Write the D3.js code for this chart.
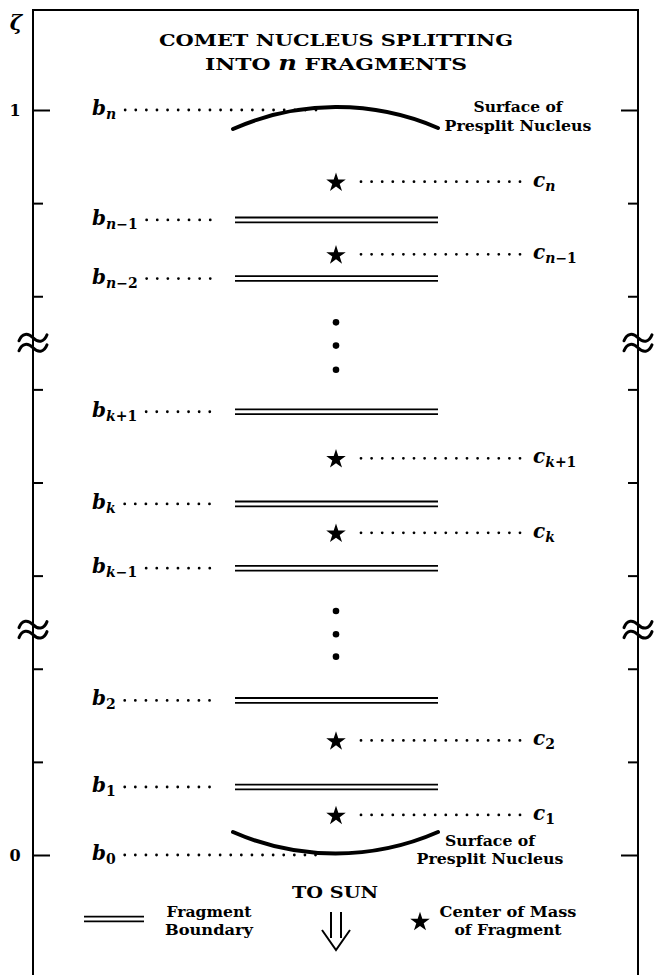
<!DOCTYPE html>
<html>
<head>
<meta charset="utf-8">
<script src="https://cdn.jsdelivr.net/npm/d3@7"></script>
<style>
  body { margin: 0; background: #fff; }
  svg { display: block; }
</style>
</head>
<body>
<div id="chart"></div>
<script>
// positions are in tick units: 0 = lower surface (zeta 0), 8 = upper surface (zeta 1)
const tick_values = [0, 1, 2, 3, 4, 5, 6, 7, 8];
const tick_labels = {0: "0", 8: "1"};
const boundary_subs = ["n", "n\u22121", "n\u22122", "k+1", "k", "k\u22121", "2", "1", "0"];
const boundary_pos = [8, 6.82, 6.19, 4.76, 3.77, 3.08, 1.66, 0.73, 0];
const center_subs = ["n", "n\u22121", "k+1", "k", "2", "1"];
const center_pos = [7.23, 6.45, 4.26, 3.46, 1.23, 0.43];
const ellipsis_pos = [5.72, 5.47, 5.21, 2.62, 2.37, 2.13];
const break_pos = [5.5, 2.42];
const title_lines = ["COMET NUCLEUS SPLITTING", "INTO n FRAGMENTS"];
const surface_label = ["Surface of", "Presplit Nucleus"];
const legend_boundary = ["Fragment", "Boundary"];
const legend_center = ["Center of Mass", "of Fragment"];

const width = 655;
const height = 975;
const left_x = 33;
const right_x = 638;
const frame_top = 10;
const mid_x = 336;
const bar_x1 = 235;
const bar_x2 = 438;
const label_x = 92;
const serif = "'DejaVu Serif', 'Liberation Serif', serif";

const y = d3.scaleLinear().domain([0, 8]).range([855, 110]);

const svg = d3.select("#chart").append("svg")
    .attr("width", width)
    .attr("height", height);

// frame
svg.append("path")
    .attr("d", `M${left_x},${height} V${frame_top} H${right_x} V${height}`)
    .attr("fill", "none")
    .attr("stroke", "#000")
    .attr("stroke-width", 2);

// ticks, minor and major, pointing inward on both sides
function draw_ticks(x, axis_fn, values, size) {
    const g = svg.append("g")
        .attr("transform", `translate(${x},0)`)
        .call(axis_fn(y).tickValues(values).tickSize(size).tickFormat(""));
    g.select(".domain").remove();
    g.selectAll(".tick line").attr("stroke", "#000").attr("stroke-width", 2);
    return g;
}
const minor = tick_values.filter(d => !(d in tick_labels));
const major = tick_values.filter(d => d in tick_labels);
draw_ticks(left_x, d3.axisRight, minor, 10);
draw_ticks(left_x, d3.axisRight, major, 17);
draw_ticks(right_x, d3.axisLeft, minor, 10);
draw_ticks(right_x, d3.axisLeft, major, 17);

svg.append("g").selectAll("text")
    .data(major)
    .join("text")
    .attr("x", 15)
    .attr("y", d => y(d))
    .attr("dy", "0.36em")
    .attr("text-anchor", "middle")
    .attr("font-family", serif)
    .attr("font-weight", "bold")
    .attr("font-size", 16)
    .text(d => tick_labels[d]);

svg.append("text")
    .attr("x", 16)
    .attr("y", 30)
    .attr("text-anchor", "middle")
    .attr("font-family", serif)
    .attr("font-weight", "bold")
    .attr("font-style", "italic")
    .attr("font-size", 21)
    .text("\u03B6");

// axis break marks
const tilde = "M-14,3 C-11,-5 -5,-5 0,0 C5,5 11,5 14,-3";
break_pos.forEach(p => {
    [left_x, right_x].forEach(x => {
        [-5, 5].forEach(off => {
            svg.append("path")
                .attr("d", tilde)
                .attr("transform", `translate(${x},${y(p) + off})`)
                .attr("fill", "none")
                .attr("stroke", "#000")
                .attr("stroke-width", 3)
                .attr("stroke-linecap", "round");
        });
    });
});

// title
svg.append("text")
    .attr("x", mid_x)
    .attr("y", 46)
    .attr("text-anchor", "middle")
    .attr("font-family", serif)
    .attr("font-weight", "bold")
    .attr("font-size", 17)
    .attr("textLength", 354)
    .attr("lengthAdjust", "spacingAndGlyphs")
    .text(title_lines[0]);
const t2 = svg.append("text")
    .attr("x", mid_x)
    .attr("y", 70)
    .attr("text-anchor", "middle")
    .attr("font-family", serif)
    .attr("font-weight", "bold")
    .attr("font-size", 17)
    .attr("textLength", 262)
    .attr("lengthAdjust", "spacingAndGlyphs");
const t2_parts = title_lines[1].split(" n ");
t2.append("tspan").text(t2_parts[0] + " ");
t2.append("tspan").attr("font-style", "italic").attr("font-size", 20).text("n");
t2.append("tspan").text(" " + t2_parts[1]);

function dotted(x1, x2, yy) {
    svg.append("line")
        .attr("x1", x1).attr("x2", x2)
        .attr("y1", yy).attr("y2", yy)
        .attr("stroke", "#000")
        .attr("stroke-width", 2.8)
        .attr("stroke-linecap", "round")
        .attr("stroke-dasharray", "0 10.6");
}

function math_label(x, yy, base, sub) {
    const t = svg.append("text")
        .attr("x", x)
        .attr("y", yy + 5)
        .attr("font-family", serif)
        .attr("font-weight", "bold")
        .attr("font-size", 20);
    t.append("tspan").attr("font-style", "italic").text(base);
    const parts = sub.match(/[a-z]+|[^a-z]+/g);
    parts.forEach((p, i) => {
        const s = t.append("tspan")
            .attr("font-size", 14)
            .attr("font-style", /[a-z]/.test(p) ? "italic" : "normal")
            .text(p);
        if (i === 0) s.attr("dy", 4);
    });
    return t;
}

// fragment boundaries
boundary_pos.forEach((p, i) => {
    const yy = y(p);
    const lab = math_label(label_x, yy, "b", boundary_subs[i]);
    const lab_end = label_x + lab.node().getComputedTextLength();
    const surface = (i === 0 || i === boundary_pos.length - 1);
    dotted(lab_end + 9, surface ? 318 : 213, yy);
    if (!surface) {
        [-2.4, 2.4].forEach(off => {
            svg.append("line")
                .attr("x1", bar_x1).attr("x2", bar_x2)
                .attr("y1", yy + off).attr("y2", yy + off)
                .attr("stroke", "#000")
                .attr("stroke-width", 1.8);
        });
    }
});

// presplit nucleus surfaces (circular arcs)
const chord = (bar_x2 - bar_x1) / 2;
const sag = 21;
const radius = (chord * chord + sag * sag) / (2 * sag);
const top_y = y(8) - 2;
const bot_y = y(0) - 2;
svg.append("path")
    .attr("d", `M${bar_x1 - 2},${top_y + sag} A${radius},${radius} 0 0,1 ${bar_x2},${top_y + sag - 1}`)
    .attr("fill", "none").attr("stroke", "#000")
    .attr("stroke-width", 4).attr("stroke-linecap", "round");
svg.append("path")
    .attr("d", `M${bar_x1 - 2},${bot_y - sag} A${radius},${radius} 0 0,0 ${bar_x2},${bot_y - sag}`)
    .attr("fill", "none").attr("stroke", "#000")
    .attr("stroke-width", 4).attr("stroke-linecap", "round");

// two-line text blocks, each line fitted to the width
function text_block(cx, baselines, lines, widths, size) {
    lines.forEach((s, i) => {
        svg.append("text")
            .attr("x", cx)
            .attr("y", baselines[i])
            .attr("text-anchor", "middle")
            .attr("font-family", serif)
            .attr("font-weight", "bold")
            .attr("font-size", size)
            .attr("textLength", widths[i])
            .attr("lengthAdjust", "spacingAndGlyphs")
            .text(s);
    });
}
text_block(518, [112, 131], surface_label, [89, 147], 15.5);
text_block(490, [846, 864], surface_label, [90, 147], 15);

// centers of mass
const star = d3.symbol(d3.symbolStar, 118);
center_pos.forEach((p, i) => {
    const yy = y(p);
    svg.append("path")
        .attr("d", star())
        .attr("transform", `translate(${mid_x},${yy + 1})`)
        .attr("fill", "#000");
    dotted(361, 526, yy);
    math_label(533, yy, "c", center_subs[i]);
});

// vertical ellipses
svg.append("g").selectAll("circle")
    .data(ellipsis_pos)
    .join("circle")
    .attr("cx", mid_x)
    .attr("cy", d => y(d))
    .attr("r", 3.3)
    .attr("fill", "#000");

// legend
[-2.4, 2.4].forEach(off => {
    svg.append("line")
        .attr("x1", 84).attr("x2", 144)
        .attr("y1", 919 + off).attr("y2", 919 + off)
        .attr("stroke", "#000").attr("stroke-width", 1.8);
});
text_block(209, [917, 935], legend_boundary, [85, 88], 15);
text_block(508, [917, 935], legend_center, [137, 107], 15);
svg.append("path")
    .attr("d", star())
    .attr("transform", `translate(420,922)`)
    .attr("fill", "#000");

svg.append("text")
    .attr("x", 335)
    .attr("y", 898)
    .attr("text-anchor", "middle")
    .attr("font-family", serif)
    .attr("font-weight", "bold")
    .attr("font-size", 17)
    .attr("textLength", 86)
    .attr("lengthAdjust", "spacingAndGlyphs")
    .text("TO SUN");
svg.append("path")
    .attr("d", "M331,912 V938 M341,912 V938 M322,930 L336,950 L350,930")
    .attr("fill", "none")
    .attr("stroke", "#000")
    .attr("stroke-width", 2)
    .attr("stroke-linejoin", "miter");
</script>
</body>
</html>
